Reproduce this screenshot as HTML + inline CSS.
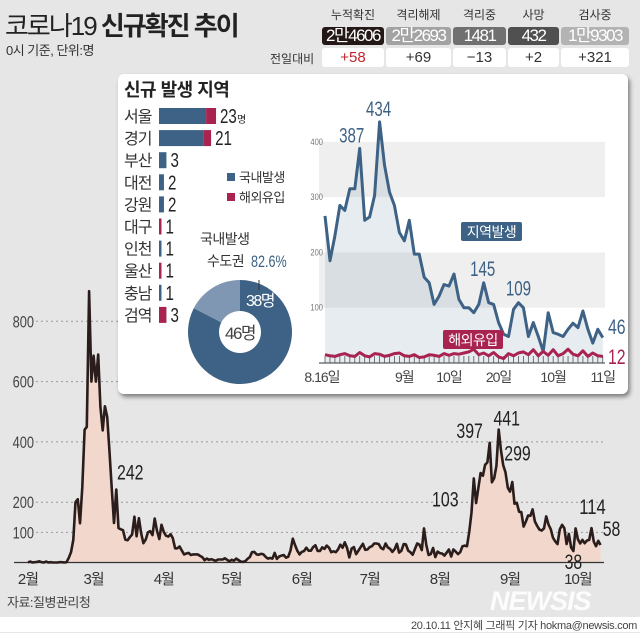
<!DOCTYPE html>
<html><head><meta charset="utf-8">
<style>
*{margin:0;padding:0;box-sizing:border-box}
body{width:640px;height:632px;overflow:hidden;background:#e6e6e6;font-family:"Liberation Sans","Noto Sans CJK KR",sans-serif;position:relative;color:#222}
.abs{position:absolute}
.hd{position:absolute;top:6px;font-size:12px;color:#333;text-align:center}
.bx{position:absolute;top:27px;height:18px;border-radius:3px;color:#fff;font-size:17px;text-align:center;line-height:18px;letter-spacing:-1.5px}
.wb{position:absolute;top:48px;height:19px;border-radius:3px;background:#fff;font-size:15px;text-align:center;line-height:19px;color:#333}
</style></head><body>
<div class="abs" style="left:5px;top:6px;font-size:26px;letter-spacing:-2px;color:#222">코로나19 <b>신규확진 추이</b></div>
<div class="abs" style="left:6px;top:40px;font-size:13px;color:#333;letter-spacing:-0.5px">0시 기준, 단위:명</div>

<div class="hd" style="left:322px;width:62px">누적확진</div>
<div class="hd" style="left:386px;width:65px">격리해제</div>
<div class="hd" style="left:453px;width:53px">격리중</div>
<div class="hd" style="left:508px;width:51px">사망</div>
<div class="hd" style="left:561px;width:68px">검사중</div>
<div class="bx" style="left:322px;width:62px;background:#231815">2만4606</div>
<div class="bx" style="left:386px;width:65px;background:#a3a3a3">2만2693</div>
<div class="bx" style="left:453px;width:53px;background:#707070">1481</div>
<div class="bx" style="left:508px;width:51px;background:#505050">432</div>
<div class="bx" style="left:561px;width:68px;background:#b3b3b3">1만9303</div>
<div class="abs" style="left:270px;top:50px;font-size:12px;color:#333">전일대비</div>
<div class="wb" style="left:322px;width:62px;color:#c0272d">+58</div>
<div class="wb" style="left:386px;width:65px">+69</div>
<div class="wb" style="left:453px;width:53px">−13</div>
<div class="wb" style="left:508px;width:51px">+2</div>
<div class="wb" style="left:561px;width:68px">+321</div>

<svg id="main" class="abs" style="left:0;top:0" width="640" height="632"></svg>

<div class="abs" style="left:118px;top:74px;width:510px;height:320px;background:#fff;border-radius:6px;box-shadow:2px 3px 4px rgba(0,0,0,0.45)"></div>
<svg id="inset" class="abs" style="left:0;top:0" width="640" height="632"></svg>

<div class="abs" style="left:7px;top:592px;font-size:13px;color:#444;letter-spacing:-0.5px">자료:질병관리청</div>
<div class="abs" style="left:490px;top:586px;font-size:27px;font-weight:bold;font-style:italic;color:rgba(255,255,255,0.85);letter-spacing:-1px">NEWSIS</div>
<div class="abs" style="left:0;top:617px;width:640px;height:15px;background:#fff"></div>
<div class="abs" style="right:3px;top:617px;font-size:11px;color:#444;letter-spacing:-0.3px">20.10.11 안지혜 그래픽 기자 hokma@newsis.com</div>

<script>
// ---- main chart data (Feb 1 - Oct 11) ----
const mainDaily = [
1,3,0,1,2,4,1,0,3,0,1,0,0,0,1,1,0,
1,15,34,75,200,210,130,250,440,450,900,600,
686,600,690,516,438,518,483,367,248,131,242,114,110,107,76,74,84,93,152,87,147,98,64,76,100,104,91,146,105,78,125,
101,89,86,94,81,47,47,53,39,27,30,32,25,27,27,27,22,18,8,13,9,11,8,6,10,10,10,14,9,4,
9,6,13,8,3,2,4,12,18,34,35,27,26,29,27,19,13,15,13,32,12,20,23,25,16,19,40,79,58,39,27,
35,38,49,39,39,51,57,38,38,50,45,56,49,34,37,34,43,59,49,67,48,17,46,51,28,39,51,62,42,43,
51,54,63,63,61,48,44,63,50,45,35,44,62,33,39,61,60,39,34,26,45,63,59,41,113,58,25,28,48,18,36,
31,30,23,33,43,20,43,36,28,34,54,56,54,103,166,279,197,246,297,288,324,332,397,266,280,320,441,371,323,299,248,
235,267,195,198,168,167,119,136,156,155,176,136,121,109,106,113,153,126,110,82,70,61,110,125,114,61,95,50,38,113,
77,63,75,64,73,75,114,69,54,72,58];
const mainTicks = [100,200,400,600,800];
const mainMonths = ["2월","3월","4월","5월","6월","7월","8월","9월","10월"];
const mainMonthStart = [0,29,60,90,121,151,182,213,243];
const mainCallouts = [[39,"242"],[195,"103"],[204,"397"],[208,"441"],[211,"299"],[241,"38"],[249,"114"],[253,"58"]];

// ---- inset data ----
const regions = ["서울","경기","부산","대전","강원","대구","인천","울산","충남","검역"];
const regionDomestic = [19,18,3,2,2,0,1,0,1,0];
const regionForeign = [4,3,0,0,0,1,0,1,0,3];
const donutValues = [38,8];
const localDaily = [266,185,230,285,276,315,315,388,258,264,303,436,358,309,285,236,221,258,197,197,155,145,106,121,142,139,161,115,100,100,91,106,145,109,106,73,52,48,97,109,100,48,73,48,21,91,55,52,48,61,72,64,94,61,36,61,46];
const foreignDaily = [15,13,12,15,17,13,12,19,13,11,17,16,12,14,17,18,13,12,15,10,11,15,14,12,17,14,17,16,18,20,25,15,18,13,19,11,8,17,13,18,20,15,24,13,21,14,24,13,17,25,16,13,22,12,18,13,12];
const insetTicks = [100,200,300,400];
const insetXLabels = [[0,"8.16일"],[16,"9월"],[25,"10일"],[35,"20일"],[46,"10월"],[56,"11일"]];

const NS="http://www.w3.org/2000/svg";
function mk(parent,tag,attrs,text){const e=document.createElementNS(NS,tag);for(const k in attrs)e.setAttribute(k,attrs[k]);if(text!==undefined)e.textContent=text;parent.appendChild(e);return e;}
function narrow(e,fs){const n=String(e.textContent).length;e.setAttribute('textLength',(n*fs*0.42).toFixed(1));e.setAttribute('lengthAdjust','spacingAndGlyphs');}

// main axes
const mx=i=>28+i*2.263, my=v=>562.5-v*0.3015;
const M=document.getElementById('main');
mainTicks.forEach(t=>{
  const l=mk(M,'line',{x1:36,x2:604,y1:my(t),y2:my(t),stroke:'#9a9a9a','stroke-dasharray':'2,3','stroke-width':1});
  
  
  const tx=mk(M,'text',{x:34,y:my(t)+6,'text-anchor':'end','font-size':17,fill:'#444'},t);
  
  
  narrow(tx,17);
});
let pts=mainDaily.map((v,i)=>mx(i).toFixed(1)+','+my(v).toFixed(1));
const area=mk(M,'polygon',{points:mx(0)+','+my(0)+' '+pts.join(' ')+' '+mx(mainDaily.length-1)+','+my(0),fill:'#f2d8cc'});


const base=mk(M,'line',{x1:14,x2:604,y1:my(0),y2:my(0),stroke:'#333','stroke-width':1.2});


const ln=mk(M,'polyline',{points:pts.join(' '),fill:'none',stroke:'#2a1d1b','stroke-width':2.6,'stroke-linejoin':'round'});


mainMonths.forEach((m,i)=>{
  const t=mk(M,'text',{x:mx(mainMonthStart[i]),y:584,'text-anchor':'middle','font-size':15,fill:'#333','letter-spacing':'-1'},m);
  
  
});
// offsets relative to the data point (dx, dy)
const calloutOffsets={"242":[14,-10],"103":[-24,-25],"397":[-20,-5],"441":[8,-4],"299":[12,-12],"38":[0,18],"114":[1,-14],"58":[11,-9]};
mainCallouts.forEach(([i,s])=>{
  const o=calloutOffsets[s]||[0,-5];
  const t=mk(M,'text',{x:mx(i)+o[0],y:my(mainDaily[i])+o[1],'text-anchor':'middle','font-size':21,fill:'#222'},s);
  
  
  narrow(t,21);
});

// inset
const S=document.getElementById('inset');
const tt=mk(S,'text',{x:124,y:96,'font-size':18,'font-weight':'bold',fill:'#222','letter-spacing':'-0.5'},'신규 발생 지역');


const bx0=159, bu=2.48;
regions.forEach((r,i)=>{
  const cy=116+i*22.1;
  const l=mk(S,'text',{x:124,y:cy+6,'font-size':16,fill:'#333','letter-spacing':'-1'},r);
  
  
  const wd=regionDomestic[i]*bu, wf=regionForeign[i]*bu;
  const b1=mk(S,'rect',{x:bx0,y:cy-8,width:wd,height:16,fill:'#3d6285'});
  
  
  const b2=mk(S,'rect',{x:bx0+wd,y:cy-8,width:wf,height:16,fill:'#a8234f'});
  
  
  const tot=regionDomestic[i]+regionForeign[i];
  const v=mk(S,'text',{x:bx0+wd+wf+4,y:cy+7,'font-size':20,fill:'#222'},tot);
  
  
  narrow(v,20);
  if(i===0){const u=mk(S,'text',{x:bx0+wd+wf+21,y:cy+7,'font-size':10,fill:'#222'},'명');}
});
[['#3d6285','국내발생',178],['#a8234f','해외유입',198]].forEach(([c,s,y])=>{
  const r=mk(S,'rect',{x:227,y:y-5,width:8,height:8,fill:c});
  
  
  const t=mk(S,'text',{x:239,y:y+4,'font-size':13,fill:'#333','letter-spacing':'-0.5'},s);
  
  
});
// donut
const dcx=240,dcy=332,R=52,r0=21;
const dtot=donutValues[0]+donutValues[1];
let a0=0;
donutValues.forEach((v,i)=>{
  const a1=a0+v/dtot*2*Math.PI;
  const p=(a,rr)=>[dcx+rr*Math.sin(a),dcy-rr*Math.cos(a)];
  const large=(a1-a0)>Math.PI?1:0;
  const [x1,y1]=p(a0,R),[x2,y2]=p(a1,R),[x3,y3]=p(a1,r0),[x4,y4]=p(a0,r0);
  const path=mk(S,'path',{d:`M${x1},${y1}A${R},${R} 0 ${large} 1 ${x2},${y2}L${x3},${y3}A${r0},${r0} 0 ${large} 0 ${x4},${y4}Z`,fill:i===0?'#3d6285':'#7f97b3'});
  
  
  a0=a1;
});
const dl=mk(S,'line',{x1:259,x2:259,y1:280,y2:290,stroke:'#333','stroke-width':1});


const d1=mk(S,'text',{x:246,y:306,'font-size':16,fill:'#fff','letter-spacing':'-1.5'},donutValues[0]+'명');


const d2=mk(S,'text',{x:225,y:339,'font-size':17,fill:'#444','letter-spacing':'-1.5'},dtot+'명');


const c1=mk(S,'text',{x:200,y:244,'font-size':14,fill:'#333','letter-spacing':'-0.5'},'국내발생');


const c2=mk(S,'text',{x:207,y:266,'font-size':14,fill:'#333','letter-spacing':'-0.5'},'수도권 ');


const c3=mk(S,'text',{x:251,y:267,'font-size':17,fill:'#3d6285'},'82.6%');


narrow(c3,17);

// inset line chart
const ix=i=>325+i*4.96, iy=v=>363-v*0.553;
[[300,400],[100,200]].forEach(([a,b])=>{
  const r=mk(S,'rect',{x:319,y:iy(b),width:286,height:iy(a)-iy(b),fill:'#efefef'});
  
  
});
insetTicks.forEach(t=>{
  const tx=mk(S,'text',{x:323,y:iy(t)+3,'text-anchor':'end','font-size':9,fill:'#777'},t);
  
  
  narrow(tx,10);
});
const lp=localDaily.map((v,i)=>ix(i).toFixed(1)+','+iy(v).toFixed(1));
const la=mk(S,'polygon',{points:ix(0)+','+iy(0)+' '+lp.join(' ')+' '+ix(localDaily.length-1)+','+iy(0),fill:'rgba(61,98,133,0.12)'});


const ib=mk(S,'line',{x1:319,x2:605,y1:iy(0),y2:iy(0),stroke:'#333','stroke-width':1});


localDaily.forEach((v,i)=>{
  const tk=mk(S,'line',{x1:ix(i),x2:ix(i),y1:iy(0)-7,y2:iy(0),stroke:'#555','stroke-width':0.8});
  
  
});
const ll=mk(S,'polyline',{points:lp.join(' '),fill:'none',stroke:'#3d6285','stroke-width':3,'stroke-linejoin':'round'});


const fl=mk(S,'polyline',{points:foreignDaily.map((v,i)=>ix(i).toFixed(1)+','+iy(v).toFixed(1)).join(' '),fill:'none',stroke:'#a8234f','stroke-width':3,'stroke-linejoin':'round'});


insetXLabels.forEach(([i,s])=>{
  const t=mk(S,'text',{x:ix(i)+(i===0?-3:0),y:382,'text-anchor':'middle','font-size':14,fill:'#444','letter-spacing':'-1'},s);
  
  
});
[[7,'387',-2,-6],[11,'434',-1,-6],[32,'145',-1,-7],[39,'109',0,-7]].forEach(([i,s,dx,dy])=>{
  const t=mk(S,'text',{x:ix(i)+dx-(i===7?6:0),y:iy(localDaily[i])+dy,'text-anchor':'middle','font-size':21,fill:'#3d6285'},s);
  
  
  narrow(t,20);
});
const e1=mk(S,'text',{x:608,y:334,'font-size':21,fill:'#3d6285'},localDaily[localDaily.length-1]);


narrow(e1,21);
const e2=mk(S,'text',{x:608,y:364,'font-size':21,fill:'#a8234f'},foreignDaily[foreignDaily.length-1]);


narrow(e2,21);
const g1=mk(S,'rect',{x:461,y:222,width:61,height:19,rx:2,fill:'#3d6285'});


const g1t=mk(S,'text',{x:491.5,y:237,'text-anchor':'middle','font-size':14,fill:'#fff','letter-spacing':'-0.5'},'지역발생');


const g2=mk(S,'rect',{x:443,y:330,width:60,height:19,rx:2,fill:'#a8234f'});


const g2t=mk(S,'text',{x:473,y:345,'text-anchor':'middle','font-size':14,fill:'#fff','letter-spacing':'-0.5'},'해외유입');


</script>
</body></html>
